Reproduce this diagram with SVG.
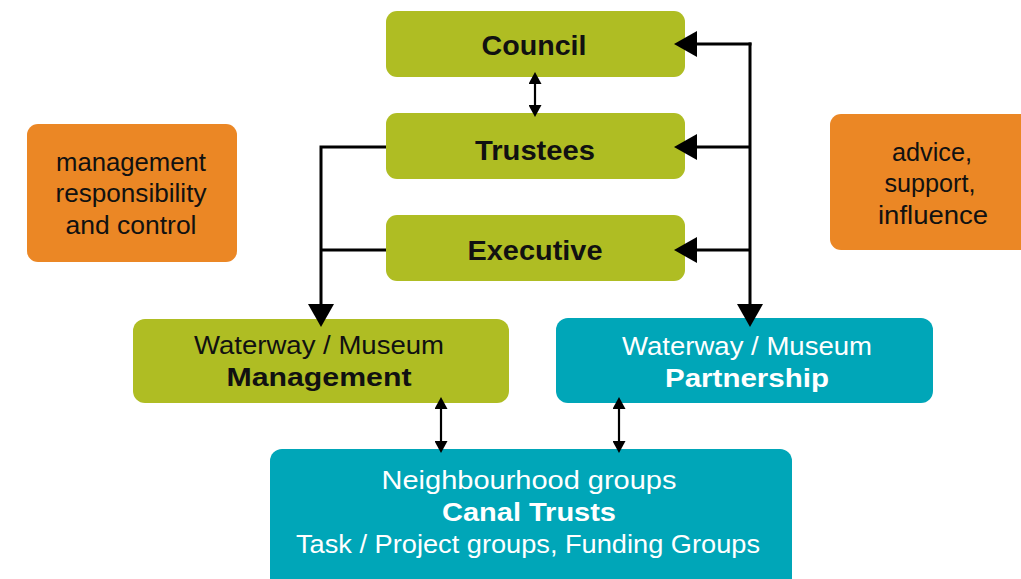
<svg xmlns="http://www.w3.org/2000/svg" width="1021" height="579" viewBox="0 0 1021 579">
<style>
.green{fill:#afbd23}
.teal{fill:#00a6b8}
.orange{fill:#eb8725}
text{font-family:"Liberation Sans",Arial,sans-serif;text-anchor:middle}
.hd{font-size:27px;font-weight:bold;fill:#111}
.lb{font-size:26px;fill:#111}
.lbw{font-size:26px;fill:#fff}
.bb{font-weight:bold}
.or{font-size:25px;fill:#111}
.big{fill:none;stroke:#000;stroke-width:3}
.small{fill:none;stroke:#000;stroke-width:2.2}
</style>
<defs>
<marker id="bigHead" markerUnits="userSpaceOnUse" markerWidth="24" markerHeight="26" refX="0" refY="13" orient="auto" viewBox="0 0 24 26">
<path d="M0,0 L23,13 L0,26 Z" fill="#000"/>
</marker>
<marker id="smallHead" markerUnits="userSpaceOnUse" markerWidth="13" markerHeight="13" refX="0" refY="6.5" orient="auto-start-reverse" viewBox="0 0 13 13">
<path d="M0,0 L12,6.5 L0,13 Z" fill="#000"/>
</marker>
</defs>
<rect width="1021" height="579" fill="#fff"/>

<g id="council">
<rect class="green" x="386" y="11" width="299" height="66" rx="11"/>
<text class="hd" x="534" y="55" textLength="105" lengthAdjust="spacingAndGlyphs">Council</text>
</g>
<g id="trustees">
<rect class="green" x="386" y="113" width="299" height="66" rx="11"/>
<text class="hd" x="535" y="160" textLength="120" lengthAdjust="spacingAndGlyphs">Trustees</text>
</g>
<g id="executive">
<rect class="green" x="386" y="215" width="299" height="66" rx="11"/>
<text class="hd" x="535" y="260" textLength="135" lengthAdjust="spacingAndGlyphs">Executive</text>
</g>
<g id="management-note">
<rect class="orange" x="27" y="124" width="210" height="138" rx="11"/>
<text class="or" x="131" y="171" textLength="150" lengthAdjust="spacingAndGlyphs">management</text>
<text class="or" x="131" y="202" textLength="151" lengthAdjust="spacingAndGlyphs">responsibility</text>
<text class="or" x="131" y="234" textLength="131" lengthAdjust="spacingAndGlyphs">and control</text>
</g>
<g id="advice-note">
<rect class="orange" x="830" y="114" width="205" height="136" rx="11"/>
<text class="or" x="932" y="161" textLength="80" lengthAdjust="spacingAndGlyphs">advice,</text>
<text class="or" x="930" y="192" textLength="91" lengthAdjust="spacingAndGlyphs">support,</text>
<text class="or" x="933" y="224" textLength="110" lengthAdjust="spacingAndGlyphs">influence</text>
</g>
<g id="management">
<rect class="green" x="133" y="319" width="376" height="84" rx="12"/>
<text class="lb" x="319" y="354" textLength="250" lengthAdjust="spacingAndGlyphs">Waterway / Museum</text>
<text class="lb bb" x="319" y="386" textLength="185" lengthAdjust="spacingAndGlyphs">Management</text>
</g>
<g id="partnership">
<rect class="teal" x="556" y="318" width="377" height="85" rx="12"/>
<text class="lbw" x="747" y="355" textLength="250" lengthAdjust="spacingAndGlyphs">Waterway / Museum</text>
<text class="lbw bb" x="747" y="387" textLength="164" lengthAdjust="spacingAndGlyphs">Partnership</text>
</g>
<g id="canal-trusts">
<rect class="teal" x="270" y="449" width="522" height="145" rx="12"/>
<text class="lbw" x="529" y="489" textLength="295" lengthAdjust="spacingAndGlyphs">Neighbourhood groups</text>
<text class="lbw bb" x="529" y="521" textLength="174" lengthAdjust="spacingAndGlyphs">Canal Trusts</text>
<text class="lbw" x="528" y="553" textLength="464" lengthAdjust="spacingAndGlyphs">Task / Project groups, Funding Groups</text>
</g>

<g id="connectors">
<path class="small" d="M535,84 L535,105" marker-start="url(#smallHead)" marker-end="url(#smallHead)"/>
<path class="big" d="M750,42.5 L750,304" marker-end="url(#bigHead)"/>
<path class="big" d="M751.5,44 L697,44" marker-end="url(#bigHead)"/>
<path class="big" d="M750,147 L697,147" marker-end="url(#bigHead)"/>
<path class="big" d="M750,250 L697,250" marker-end="url(#bigHead)"/>
<path class="big" d="M386,147 L321,147 L321,304" marker-end="url(#bigHead)"/>
<path class="big" d="M386,250 L321,250"/>
<path class="small" d="M441,409 L441,441" marker-start="url(#smallHead)" marker-end="url(#smallHead)"/>
<path class="small" d="M619,409 L619,441" marker-start="url(#smallHead)" marker-end="url(#smallHead)"/>
</g>
</svg>
